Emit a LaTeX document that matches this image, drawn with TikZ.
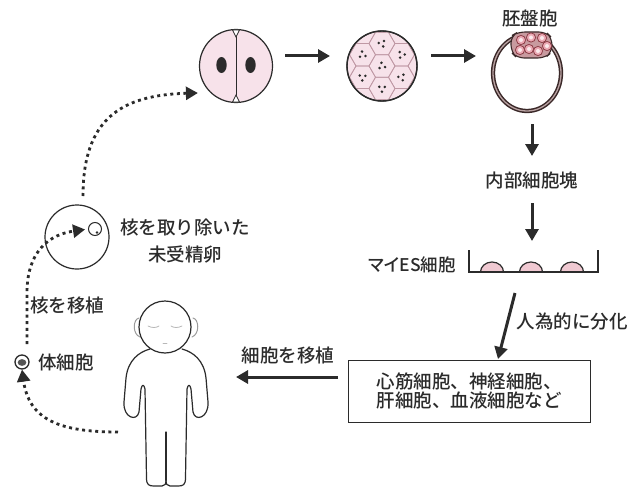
\documentclass[tikz,border=0pt]{standalone}
\usepackage{fontspec}
\newfontfamily\jp{Noto Sans CJK JP}[UprightFont={* Medium}]
\newfontfamily\jpp{Noto Sans CJK JP}[UprightFont={* Medium},RawFeature=+palt]
\usetikzlibrary{arrows.meta}
\definecolor{ink}{HTML}{2B2B2B}
\definecolor{cellpink}{HTML}{F7E2EA}
\definecolor{hexline}{HTML}{BF98A4}
\definecolor{ringbrown}{HTML}{3A2828}
\definecolor{ringlight}{HTML}{B9A2A2}
\definecolor{icmfill}{HTML}{C89A9F}
\definecolor{icmcell}{HTML}{EBA9B4}
\definecolor{icmedge}{HTML}{8E3E48}
\definecolor{bump}{HTML}{F0C9D2}
\definecolor{skin}{HTML}{9A9A9A}
\begin{document}
\begin{tikzpicture}[x=1pt,y=-1pt,
  font=\jp\fontsize{18.5}{20}\selectfont,
  lbl/.style={text=ink, inner sep=0pt},
  arr/.style={draw=ink, line width=3pt, -{Triangle[length=12pt,width=13pt]}},
  dotarr/.style={draw=ink, line width=2.8pt, dash pattern=on 3pt off 3.6pt,
                 -{Triangle[length=12pt,width=13pt]}},
  outline/.style={draw=ink, line width=1.2pt},
  dotcell/.style={fill=ink}]
\useasboundingbox (0,0) rectangle (634,487);

% ---------- two-cell embryo ----------
\node[circle, outline, fill=cellpink, minimum size=73pt, inner sep=0pt] (two) at (236,66) {};
\draw[ink, line width=1pt] (236,32) -- (236,100);
\draw[ink, line width=0.8pt, fill=white] (232.5,30) -- (236,37) -- (239.5,30) -- cycle;
\draw[ink, line width=0.8pt, fill=white] (232.5,102) -- (236,95) -- (239.5,102) -- cycle;
\fill[ink] (221.5,65) ellipse (5.2pt and 8pt);
\fill[ink] (250.5,65) ellipse (5.2pt and 8pt);

% ---------- morula ----------
\node[circle, outline, fill=cellpink, minimum size=70pt, inner sep=0pt] (morula) at (382,66) {};
\begin{scope}
  \clip (382,66) circle (34pt);
  \foreach \i in {-3,...,3}{
    \foreach \j in {-3,...,3}{
      \pgfmathsetmacro\hx{382+19.5*\i}
      \pgfmathsetmacro\hy{66+22.5*\j+11.25*mod(abs(\i),2)}
      \pgfmathsetmacro\rot{47*\i+71*\j+20}
      \draw[hexline, line width=0.7pt] (\hx,\hy) +(0:13) -- +(60:13) -- +(120:13)
        -- +(180:13) -- +(240:13) -- +(300:13) -- cycle;
      \foreach \a in {0,120,240}{
        \fill[ink] (\hx,\hy) ++(\rot+\a:3.2) circle (1.4pt);
      }
    }
  }
\end{scope}
\draw[ink, line width=1.4pt] (382,66) circle (35pt);

% ---------- blastocyst ----------
\node[lbl] (blastot) at (530,18) {胚盤胞};
\draw[draw=ringbrown, line width=1.5pt, double=ringlight, double distance=1.3pt]
  (527,73) ellipse (34pt and 38pt);
\coordinate (blasto) at (527,73);
\draw[ringbrown, line width=1.1pt, fill=icmfill, rounded corners=7pt]
  (511,36) -- (518,32) -- (546,32) -- (552,38) -- (552,52) -- (545,58) -- (517,58) -- (511,52) -- cycle;
\foreach \cx/\cy in {521/40, 531/37.5, 542/38, 520/50, 529/49, 538/51, 547/46}{
  \draw[icmedge, line width=0.8pt, fill=icmcell] (\cx,\cy) circle (4.6pt);
  \fill[white!75!icmcell] (\cx,\cy) circle (2pt);
}

% ---------- top arrows ----------
\coordinate (a1s) at (285,56);
\coordinate (a1e) at (330,56);
\coordinate (a2s) at (431,56);
\coordinate (a2e) at (476,56);
\draw[arr] (a1s) -- (a1e);
\draw[arr] (a2s) -- (a2e);

% ---------- inner cell mass ----------
\coordinate (d1s) at (532,124);
\coordinate (d1e) at (532,156);
\draw[arr] (d1s) -- (d1e);
\node[lbl] (icmt) at (532,180) {内部細胞塊};
\coordinate (d2s) at (532,203);
\coordinate (d2e) at (532,241);
\draw[arr] (d2s) -- (d2e);

% ---------- ES cell dish ----------
\node[lbl, anchor=east, font=\jpp\fontsize{17.5}{20}\selectfont] (est) at (456,265) {マイES細胞};
\foreach \bx in {492,531,572}{
  \draw[ink, line width=1.2pt, fill=bump] (\bx-11.5,272) arc[start angle=180, end angle=0, x radius=11.5pt, y radius=10pt];
}
\draw[ink, line width=1.6pt] (469,250) -- (469,272) -- (598,272) -- (598,250);
\coordinate (dish) at (533,272);

% ---------- differentiation ----------
\coordinate (dfs) at (515,293);
\coordinate (dfe) at (498,359);
\draw[arr] (dfs) -- (dfe);
\node[lbl] (difft) at (572,322) {人為的に分化};

\node[draw=ink, line width=1pt, minimum width=242pt, minimum height=62pt,
      align=center, inner sep=0pt, text=ink, font=\jp\fontsize{18.5}{18.7}\selectfont]
  (cells) at (469,391) {心筋細胞、神経細胞、\\肝細胞、血液細胞など};

% ---------- transplant ----------
\coordinate (tls) at (338,377);
\coordinate (tle) at (236,377);
\draw[arr] (tls) -- (tle);
\node[lbl] (transt) at (288,355) {細胞を移植};

% ---------- person ----------
\begin{scope}[ink, line width=1.2pt, line join=round, line cap=round]
  \foreach \sx in {1,-1}{
    \begin{scope}[shift={(166,0)}, xscale=\sx]
      \draw (-16,349) .. controls (-27,352) and (-38,360) .. (-40,378)
        -- (-42,402) .. controls (-43,418) and (-29,422) .. (-27,412)
        -- (-25,389) .. controls (-24,384) and (-22,384) .. (-21,389)
        -- (-19.5,478) .. controls (-19.5,485) and (-17,486) .. (-12,486)
        -- (-4,486) .. controls (-1,486) and (0,484) .. (0,480);
      \draw[skin, line width=1pt] (-27,318) .. controls (-33,319) and (-34,334) .. (-26,337);
    \end{scope}
  }
  \draw (166,432) -- (166,480);
  \node[circle, outline, fill=white, minimum size=52pt, inner sep=0pt] (head) at (165,327) {};
  \foreach \sx in {1,-1}{
    \begin{scope}[shift={(165,0)}, xscale=\sx]
      \draw[skin!70, line width=0.8pt] (-17,326) .. controls (-13,328) and (-9,328) .. (-6,326);
    \end{scope}
  }
  \draw[skin!70, line width=0.8pt] (163,343) -- (167,343);
\end{scope}
\node[inner sep=0pt, minimum width=86pt, minimum height=186pt] (person) at (166,394) {};

% ---------- egg and somatic cell ----------
\node[circle, outline, fill=white, minimum size=64pt, inner sep=0pt] (egg) at (77,237) {};
\node[circle, draw=ink, line width=1pt, minimum size=13pt, inner sep=0pt] (nuc) at (95,229) {};
\fill[ink] (97,232.5) circle (1.3pt);
\node[lbl, align=center, font=\jp\fontsize{18.5}{27}\selectfont] (eggt) at (185,241) {核を取り除いた\\未受精卵};

\node[circle, draw=ink, line width=1.3pt, minimum size=14pt, inner sep=0pt] (soma) at (22,362) {};
\fill[ink!80] (22,362.5) ellipse (4.3pt and 3.4pt);
\node[lbl] (somat) at (66,362) {体細胞};
\node[lbl] (movet) at (67,305) {核を移植};

% ---------- dotted transfer paths ----------
\coordinate (sp) at (118,432);
\draw[dotarr] (sp) .. controls (60,432) and (29,420) .. (soma.south);
\coordinate (up) at (27,344);
\draw[dotarr, shorten >=3pt] (up) -- (27,292) .. controls (27,262) and (40,236) .. (nuc.west);
\coordinate (eggtop) at (83,196);
\draw[dotarr] (eggtop) .. controls (83,120) and (120,95) .. ([xshift=-1pt]two.west |- 0,93);
\end{tikzpicture}
\end{document}
